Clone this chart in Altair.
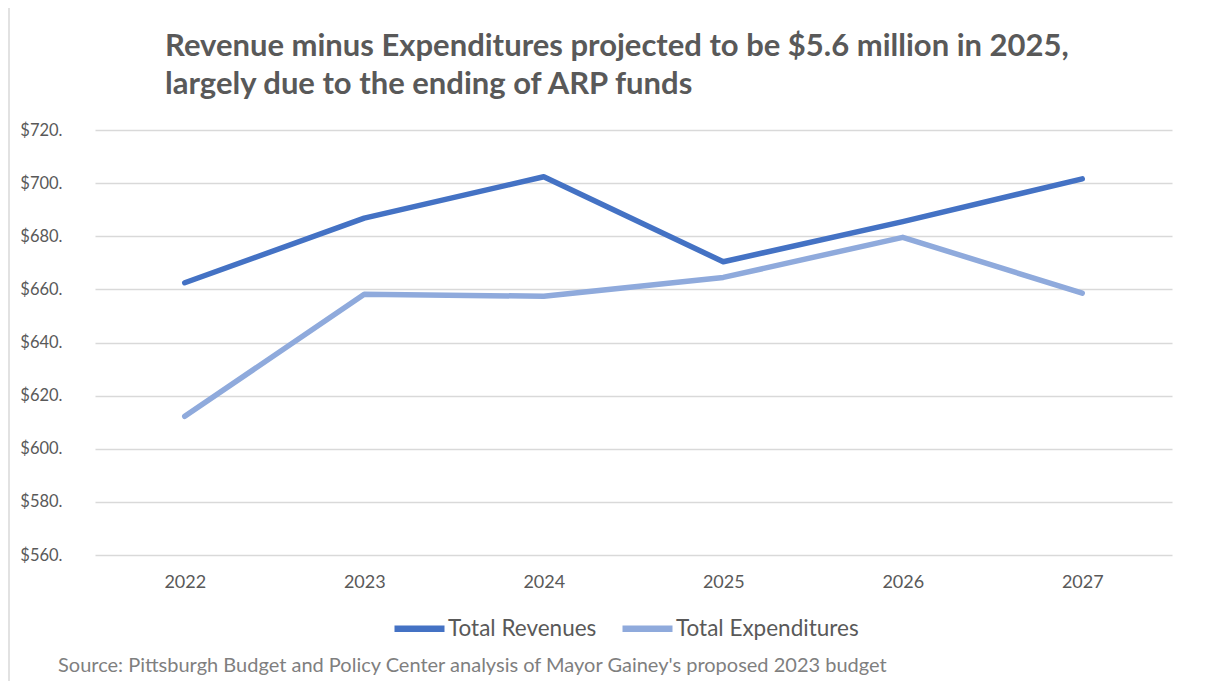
import altair as alt
import pandas as pd

years = ["2022", "2023", "2024", "2025", "2026", "2027"]
revenues = [662.5, 686.8, 702.4, 670.4, 685.5, 701.6]
expenditures = [612.2, 658.2, 657.4, 664.5, 679.6, 658.6]
series_names = ["Total Revenues", "Total Expenditures"]
series_colors = ["#4472C4", "#8FAADC"]
title_lines = [
    "Revenue minus Expenditures projected to be $5.6 million in 2025,",
    "largely due to the ending of ARP funds",
]
source_text = "Source: Pittsburgh Budget and Policy Center analysis of Mayor Gainey's proposed 2023 budget"
y_ticks = [560, 580, 600, 620, 640, 660, 680, 700, 720]

rows = []
for y, r in zip(years, revenues):
    rows.append({"year": y, "value": r, "series": series_names[0]})
for y, e in zip(years, expenditures):
    rows.append({"year": y, "value": e, "series": series_names[1]})
df = pd.DataFrame(rows)

FONT = "Lato"
GRAY = "#595959"

lines = alt.Chart(df).mark_line(strokeWidth=5.5, strokeCap="round", strokeJoin="round").encode(
    x=alt.X("year:O", sort=years, scale=alt.Scale(padding=0.5),
            axis=alt.Axis(title=None, labelAngle=0, domain=False, ticks=False,
                          labelPadding=18, labelFontSize=18, labelColor=GRAY, labelFont=FONT)),
    y=alt.Y("value:Q", scale=alt.Scale(domain=[560, 720], nice=False, zero=False),
            axis=alt.Axis(title=None, values=y_ticks, domain=False, ticks=False,
                          labelExpr="'$' + datum.value + '.'", labelPadding=33,
                          labelFontSize=16.5, labelColor=GRAY, labelFont=FONT,
                          gridColor="#D9D9D9", gridWidth=1.5)),
    color=alt.Color("series:N", sort=series_names,
                    scale=alt.Scale(domain=series_names, range=series_colors),
                    legend=alt.Legend(title=None, orient="none", direction="horizontal",
                                      legendX=296, legendY=470, symbolType="stroke",
                                      symbolSize=2500, symbolStrokeWidth=6.5,
                                      labelFontSize=22.5, labelColor=GRAY, labelFont=FONT,
                                      labelLimit=400, labelOffset=0, columnPadding=12)),
)

source = alt.Chart(pd.DataFrame({"t": [source_text]})).mark_text(
    align="left", baseline="middle", fontSize=20, font=FONT, color="#7F7F7F"
).encode(x=alt.value(-37), y=alt.value(536), text="t:N")

frame = alt.Chart(pd.DataFrame({"a": [0]})).mark_rect(
    fill=None, stroke="#D9D9D9", strokeWidth=1.5
).encode(x=alt.value(-86), x2=alt.value(1200), y=alt.value(-123), y2=alt.value(600))

chart = alt.layer(frame, lines, source).properties(
    width=1077, height=425,
    padding={"left": 87, "top": 122, "right": 45, "bottom": 130},
    autosize=alt.AutoSizeParams(type="none"),
    title=alt.TitleParams(text=title_lines, anchor="start", frame="group", dx=70,
                          fontSize=31, font=FONT, fontWeight="bold", color=GRAY,
                          lineHeight=38, offset=0, dy=119, baseline="alphabetic"),
).configure_view(stroke=None)

chart.save("out.html", embed_options={"renderer": "svg", "actions": False})
